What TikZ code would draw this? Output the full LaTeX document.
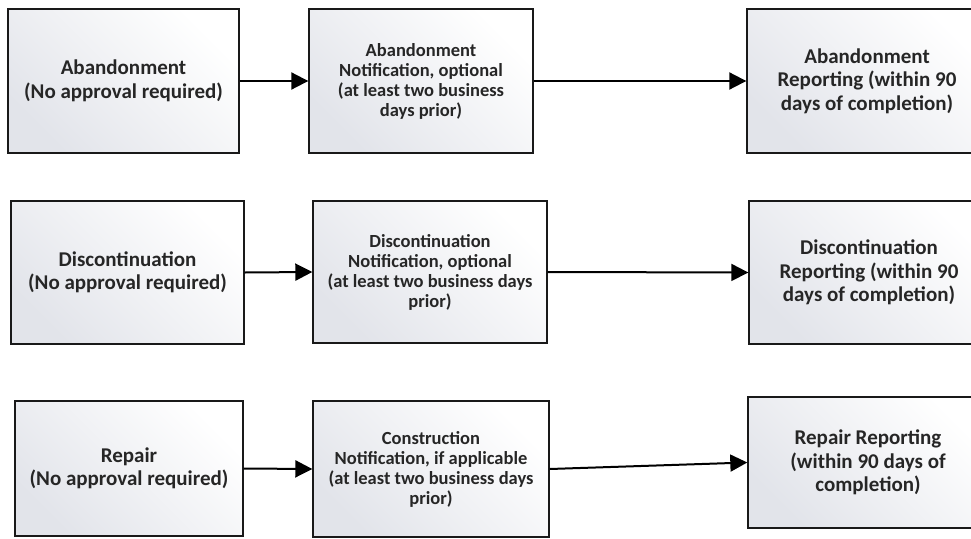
\documentclass[tikz,border=0pt]{standalone}
\usepackage{fontspec}
\setmainfont{Carlito}
\usetikzlibrary{arrows.meta}
\definecolor{boxgray}{RGB}{226,228,234}

\begin{document}
\begin{tikzpicture}[x=1pt,y=-1pt,
    stagebox/.style={draw=black!90,line width=1.4pt,top color=white,bottom color=boxgray,
        shading angle=-45,text=black!85,align=center,inner sep=0pt,
        font=\fontsize{21}{23.5}\selectfont\bfseries},
    notebox/.style={stagebox,font=\fontsize{18.5}{20}\selectfont\bfseries},
    flow/.style={line width=2pt,-{Triangle[length=17pt,width=17pt]}}]
\useasboundingbox (0,0) rectangle (971,538);
% abandonment
\node[stagebox,minimum width=231,minimum height=144] (a1) at (123.5,81) {Abandonment\\(No approval required)};
\node[notebox,minimum width=224,minimum height=144] (b1) at (421,81) {Abandonment\\Notification, optional\\(at least two business\\days prior)};
\node[stagebox,minimum width=240,minimum height=144] (c1) at (867,81) {Abandonment\\Reporting (within 90\\days of completion)};
% discontinuation
\node[stagebox,minimum width=233,minimum height=143] (a2) at (127.5,272.5) {Discontinuation\\(No approval required)};
\node[notebox,minimum width=234,minimum height=142] (b2) at (430,272) {Discontinuation\\Notification, optional\\(at least two business days\\prior)};
\node[stagebox,minimum width=240,minimum height=143] (c2) at (869,272.5) {Discontinuation\\Reporting (within 90\\days of completion)};
% repair
\node[stagebox,minimum width=228,minimum height=135] (a3) at (129,468.5) {Repair\\(No approval required)};
\node[notebox,minimum width=236,minimum height=136] (b3) at (431,469) {Construction\\Notification, if applicable\\(at least two business days\\prior)};
\node[stagebox,minimum width=240,minimum height=131] (c3) at (868,462.5) {Repair Reporting\\(within 90 days of\\completion)};
\foreach \r in {1,2,3}
{   \draw[flow] (a\r.east) -- (b\r.west);
    \draw[flow] (b\r.east) -- (c\r.west);
}
\end{tikzpicture}
\end{document}
